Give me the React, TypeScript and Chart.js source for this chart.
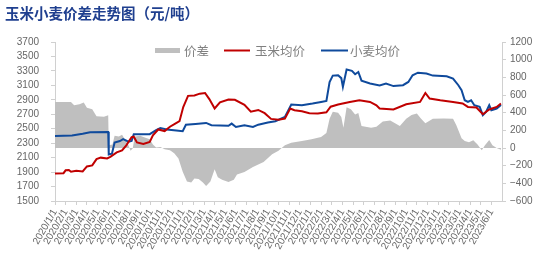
import React, { useEffect, useRef } from 'react';
import { Chart, registerables } from 'chart.js';

Chart.register(...registerables);

const TITLE = '玉米小麦价差走势图（元/吨）';
const LEGEND_SPREAD = '价差';
const LEGEND_CORN = '玉米均价';
const LEGEND_WHEAT = '小麦均价';

const monthLabels = [
  '2020/1/1', '2020/2/1', '2020/3/1', '2020/4/1', '2020/5/1', '2020/6/1',
  '2020/7/1', '2020/8/1', '2020/9/1', '2020/10/1', '2020/11/1', '2020/12/1',
  '2021/1/1', '2021/2/1', '2021/3/1', '2021/4/1', '2021/5/1', '2021/6/1',
  '2021/7/1', '2021/8/1', '2021/9/1', '2021/10/1', '2021/11/1', '2021/12/1',
  '2022/1/1', '2022/2/1', '2022/3/1', '2022/4/1', '2022/5/1', '2022/6/1',
  '2022/7/1', '2022/8/1', '2022/9/1', '2022/10/1', '2022/11/1', '2022/12/1',
  '2023/1/1', '2023/2/1', '2023/3/1', '2023/4/1', '2023/5/1', '2023/6/1',
];

// x positions are measured in months since 2020/1/1
const cornMonths = [0, 0.8, 1.0, 1.3, 1.5, 2.0, 2.6, 3.0, 3.5, 3.9, 4.3, 4.9, 5.2, 5.8, 6.3, 6.7, 7.2, 7.4, 7.7, 8.3, 8.9, 9.2, 9.7, 10.3, 10.8, 11.3, 11.7, 12.05, 12.5, 13.1, 13.6, 14.1, 14.5, 15.0, 15.5, 16.3, 16.9, 17.8, 18.4, 19.1, 19.7, 20.3, 21.0, 21.6, 22.1, 22.5, 23.2, 23.9, 24.7, 25.5, 25.9, 26.6, 27.7, 28.6, 29.6, 30.2, 30.5, 31.8, 33.0, 34.3, 34.8, 35.2, 36.2, 37.4, 38.3, 38.8, 39.6, 40.2, 40.8, 41.5, 41.9];
const cornPrices = [1880, 1885, 1925, 1930, 1905, 1920, 1908, 1978, 1993, 2080, 2100, 2088, 2110, 2172, 2200, 2270, 2385, 2390, 2310, 2290, 2318, 2410, 2490, 2468, 2528, 2572, 2605, 2800, 2955, 2960, 2985, 2995, 2910, 2780, 2865, 2905, 2900, 2830, 2735, 2760, 2715, 2636, 2625, 2640, 2780, 2756, 2742, 2715, 2712, 2728, 2805, 2835, 2871, 2894, 2871, 2825, 2780, 2766, 2839, 2871, 2995, 2918, 2894, 2871, 2849, 2802, 2794, 2700, 2766, 2802, 2850];

const wheatMonths = [0, 1.6, 2.6, 3.3, 5.0, 5.05, 5.35, 5.6, 6.1, 6.4, 6.9, 7.2, 7.4, 8.9, 9.5, 9.9, 10.5, 11.4, 12.0, 12.3, 13.2, 14.2, 14.7, 16.3, 16.6, 17.0, 17.8, 18.6, 19.1, 20.0, 20.7, 21.6, 22.2, 23.2, 24.2, 25.0, 25.5, 25.8, 26.1, 26.6, 26.9, 27.05, 27.4, 27.9, 28.2, 28.5, 28.8, 29.6, 30.5, 31.1, 31.8, 32.7, 33.2, 33.6, 34.1, 34.9, 35.5, 36.8, 37.4, 37.9, 38.2, 38.5, 38.8, 39.1, 39.4, 39.9, 40.2, 40.5, 40.8, 41.0, 41.5, 41.9];
const wheatPrices = [2400, 2405, 2430, 2450, 2455, 2145, 2155, 2310, 2330, 2355, 2320, 2330, 2425, 2425, 2480, 2510, 2490, 2475, 2465, 2555, 2567, 2580, 2549, 2540, 2571, 2525, 2549, 2525, 2556, 2586, 2604, 2664, 2835, 2825, 2849, 2871, 2885, 3147, 3235, 3240, 3200, 3080, 3320, 3300, 3254, 3285, 3165, 3125, 3100, 3125, 3090, 3102, 3147, 3240, 3275, 3263, 3235, 3226, 3194, 3102, 3033, 2894, 2871, 2894, 2825, 2802, 2687, 2733, 2825, 2756, 2780, 2830];

const spreadMonths = [0, 1.5, 1.8, 2.3, 2.7, 3.0, 3.5, 3.9, 4.6, 5.0, 5.05, 5.4, 5.6, 6.0, 6.3, 6.6, 6.9, 7.1, 7.3, 7.5, 8.0, 8.5, 8.9, 9.2, 9.5, 9.9, 10.3, 10.8, 11.2, 11.6, 12.0, 12.4, 12.8, 13.1, 13.5, 13.9, 14.2, 14.6, 15.0, 15.3, 15.7, 16.3, 16.8, 17.1, 17.8, 18.6, 19.6, 20.4, 21.0, 21.6, 22.2, 23.2, 24.1, 25.0, 25.5, 25.8, 26.1, 26.6, 26.9, 27.1, 27.4, 27.8, 28.2, 28.5, 28.8, 29.7, 30.2, 30.8, 31.5, 32.4, 33.0, 33.5, 34.0, 34.4, 34.8, 35.5, 36.5, 37.4, 37.7, 37.9, 38.2, 38.5, 38.9, 39.3, 39.7, 40.1, 40.4, 40.8, 41.1, 41.5, 41.9];
const spreadValues = [520, 520, 485, 495, 515, 455, 440, 360, 355, 370, 30, 40, 140, 130, 150, 90, 30, -30, -5, 130, 140, 115, 100, 40, 5, 10, -15, -25, -60, -120, -270, -380, -390, -345, -350, -390, -430, -380, -240, -330, -360, -385, -360, -300, -272, -215, -158, -70, -30, 30, 60, 80, 100, 125, 170, 330, 410, 400, 350, 230, 460, 440, 380, 395, 250, 230, 240, 300, 310, 250, 330, 375, 390, 330, 280, 330, 335, 330, 260, 200, 110, 80, 65, 87, 40, -25, 30, 90, 30, 0, -20];

const LEFT_MIN = 1500;
const LEFT_MAX = 3700;
const LEFT_STEP = 200;
const RIGHT_MIN = -600;
const RIGHT_MAX = 1200;
const RIGHT_STEP = 200;
const X_MIN = 0;
const X_MAX = 42;
const LAST_LABEL_INDEX = monthLabels.length - 1;

const RED = '#C00000';
const BLUE = '#0F4A9C';
const GRAY = '#BFBFBF';
const AXIS = '#D0D0D0';
const TICK_TEXT = '#666666';

const zip = (xs: number[], ys: number[]) => xs.map((x, i) => ({ x, y: ys[i] }));
const plainNumber = (v: any) => {
  const n = Number(v);
  return n < 0 ? '\u2212' + String(Math.abs(n)) : String(n);
};

const overlayPlugin = {
  id: 'overlay',
  afterDraw(chart: any) {
    const ctx = chart.ctx as CanvasRenderingContext2D;
    ctx.save();
    ctx.textBaseline = 'middle';
    ctx.textAlign = 'left';
    ctx.fillStyle = '#1F3F8F';
    ctx.font = 'bold 14.5px "Noto Sans CJK SC"';
    ctx.fillText(TITLE, 5, 13);

    ctx.font = '12.5px "Noto Sans CJK SC"';
    ctx.fillStyle = GRAY;
    ctx.fillRect(155, 48, 25, 5);
    ctx.fillStyle = '#808080';
    ctx.fillText(LEGEND_SPREAD, 184, 51);

    ctx.lineWidth = 2;
    ctx.strokeStyle = RED;
    ctx.beginPath();
    ctx.moveTo(224, 50.5);
    ctx.lineTo(250, 50.5);
    ctx.stroke();
    ctx.fillStyle = '#808080';
    ctx.fillText(LEGEND_CORN, 255, 51);

    ctx.strokeStyle = BLUE;
    ctx.beginPath();
    ctx.moveTo(321, 50.5);
    ctx.lineTo(348, 50.5);
    ctx.stroke();
    ctx.fillStyle = '#808080';
    ctx.fillText(LEGEND_WHEAT, 350, 51);
    ctx.restore();
  },
};

export default function App() {
  const canvasRef = useRef<HTMLCanvasElement | null>(null);

  useEffect(() => {
    document.body.style.margin = '0';
    const canvas = canvasRef.current;
    if (!canvas) return;
    const tickFont = { family: '"Liberation Sans", Arial, sans-serif', size: 10 };
    const chart = new Chart(canvas, {
      type: 'line',
      data: {
        datasets: [
          {
            label: LEGEND_CORN,
            data: zip(cornMonths, cornPrices),
            borderColor: RED,
            borderWidth: 2,
            pointRadius: 0,
            tension: 0,
            yAxisID: 'y',
            order: 0,
          },
          {
            label: LEGEND_WHEAT,
            data: zip(wheatMonths, wheatPrices),
            borderColor: BLUE,
            borderWidth: 2,
            pointRadius: 0,
            tension: 0,
            yAxisID: 'y',
            order: 1,
          },
          {
            label: LEGEND_SPREAD,
            data: zip(spreadMonths, spreadValues),
            borderWidth: 0,
            borderColor: GRAY,
            backgroundColor: GRAY,
            fill: 'origin',
            pointRadius: 0,
            tension: 0,
            yAxisID: 'y1',
            order: 2,
          },
        ],
      },
      options: {
        responsive: false,
        animation: false,
        devicePixelRatio: 1,
        layout: { padding: { top: 42, left: 0, right: 0, bottom: 0 } },
        plugins: {
          legend: { display: false },
          title: { display: false },
          tooltip: { enabled: false },
        },
        scales: {
          x: {
            type: 'linear',
            min: X_MIN,
            max: X_MAX,
            afterBuildTicks: (axis: any) => {
              axis.ticks = axis.ticks.filter((t: any) => t.value <= LAST_LABEL_INDEX);
            },
            afterFit: (axis: any) => {
              axis.height = 72;
            },
            ticks: {
              stepSize: 1,
              autoSkip: false,
              maxTicksLimit: 100,
              minRotation: 60,
              maxRotation: 60,
              padding: 2,
              color: TICK_TEXT,
              font: tickFont,
              callback: (v: any) => monthLabels[Math.round(Number(v))] ?? '',
            },
            grid: { drawOnChartArea: false, drawTicks: true, tickLength: 4, tickColor: AXIS },
            border: { display: true, color: AXIS },
          },
          y: {
            position: 'left',
            min: LEFT_MIN,
            max: LEFT_MAX,
            afterFit: (axis: any) => {
              axis.width = 55;
            },
            ticks: {
              stepSize: LEFT_STEP,
              autoSkip: false,
              maxTicksLimit: 100,
              color: TICK_TEXT,
              font: tickFont,
              padding: 12,
              callback: plainNumber,
            },
            grid: { drawOnChartArea: false, drawTicks: true, tickLength: 4, tickColor: AXIS },
            border: { display: true, color: AXIS },
          },
          y1: {
            position: 'right',
            min: RIGHT_MIN,
            max: RIGHT_MAX,
            afterFit: (axis: any) => {
              axis.width = 53;
            },
            ticks: {
              stepSize: RIGHT_STEP,
              autoSkip: false,
              maxTicksLimit: 100,
              color: TICK_TEXT,
              font: tickFont,
              padding: 4,
              callback: plainNumber,
            },
            grid: { drawOnChartArea: false, drawTicks: true, tickLength: 4, tickColor: AXIS },
            border: { display: true, color: AXIS },
          },
        },
      },
      plugins: [overlayPlugin],
    });
    return () => chart.destroy();
  }, []);

  return (
    <div style={{ width: 555, height: 273, background: '#fff' }}>
      <canvas ref={canvasRef} width={555} height={273} />
    </div>
  );
}
